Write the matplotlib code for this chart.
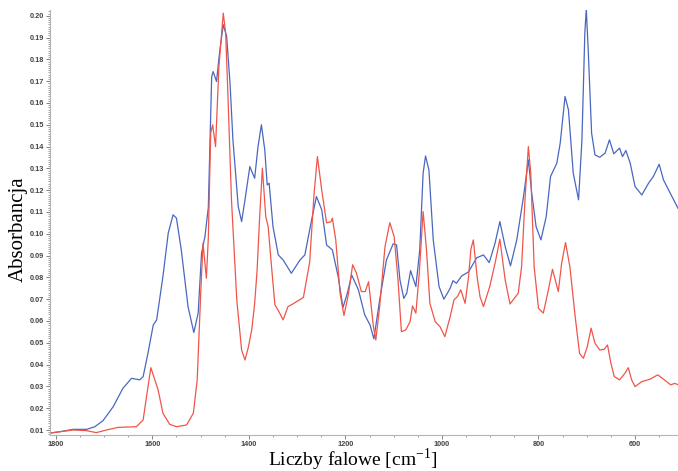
import numpy as np
import matplotlib
matplotlib.use('Agg')
import matplotlib.pyplot as plt
from matplotlib.ticker import MultipleLocator, FormatStrFormatter

plt.rcParams['mathtext.fontset'] = 'stix'

# blue spectrum (wavenumber, absorbance)
blue_w = np.array([1812, 1792, 1764, 1736, 1719, 1702, 1681, 1661, 1643, 1626,
                   1619, 1609, 1598, 1591, 1578, 1567, 1557, 1550, 1540, 1526,
                   1514, 1505, 1498, 1491, 1484, 1477, 1474, 1467, 1460, 1453,
                   1446, 1439, 1433, 1422, 1415, 1408, 1398, 1388, 1381, 1374,
                   1367, 1362, 1358, 1350, 1339, 1329, 1312, 1294, 1284, 1270,
                   1260, 1249, 1239, 1227, 1215, 1205, 1196, 1187, 1173, 1160,
                   1149, 1141, 1129, 1115, 1101, 1094, 1087, 1079, 1073, 1065,
                   1054, 1046, 1039, 1034, 1027, 1018, 1006, 996, 983, 977,
                   970, 959, 945, 928, 914, 902, 890, 880, 869, 858,
                   845, 831, 821, 814, 805, 795, 784, 775, 762, 755,
                   745, 738, 728, 717, 710, 704, 701, 697, 690, 683,
                   673, 662, 653, 644, 632, 626, 619, 610, 600, 586,
                   572, 562, 550, 541, 527, 511])
blue_a = np.array([0.0086, 0.0092, 0.0103, 0.0103, 0.0115, 0.0143, 0.0207, 0.0291, 0.0337, 0.0330,
                   0.0345, 0.0452, 0.0582, 0.0605, 0.0804, 0.1003, 0.1087, 0.1072, 0.0926, 0.0666,
                   0.0547, 0.0636, 0.0911, 0.0987, 0.1120, 0.1721, 0.1744, 0.1699, 0.1844, 0.1959,
                   0.1905, 0.1691, 0.1431, 0.1125, 0.1056, 0.1156, 0.1308, 0.1255, 0.1400, 0.1500,
                   0.1385, 0.1224, 0.1232, 0.1033, 0.0903, 0.0880, 0.0819, 0.0880, 0.0903, 0.1064,
                   0.1171, 0.1110, 0.0949, 0.0926, 0.0804, 0.0662, 0.0727, 0.0811, 0.0743, 0.0628,
                   0.0582, 0.0518, 0.0697, 0.0880, 0.0954, 0.0949, 0.0788, 0.0704, 0.0727, 0.0831,
                   0.0758, 0.0926, 0.1278, 0.1357, 0.1293, 0.0972, 0.0758, 0.0700, 0.0750, 0.0785,
                   0.0773, 0.0807, 0.0825, 0.0890, 0.0903, 0.0868, 0.0957, 0.1056, 0.0941, 0.0853,
                   0.0972, 0.1171, 0.1339, 0.1186, 0.1033, 0.0972, 0.1079, 0.1263, 0.1324, 0.1416,
                   0.1630, 0.1569, 0.1278, 0.1156, 0.1431, 0.1921, 0.2030, 0.1844, 0.1462, 0.1362,
                   0.1351, 0.1370, 0.1431, 0.1367, 0.1393, 0.1354, 0.1382, 0.1324, 0.1217, 0.1178,
                   0.1232, 0.1263, 0.1319, 0.1247, 0.1186, 0.1117])

# red spectrum
red_w = np.array([1812, 1792, 1764, 1736, 1716, 1695, 1671, 1633, 1619, 1611,
                  1603, 1597, 1588, 1578, 1564, 1550, 1529, 1515, 1507, 1500,
                  1495, 1488, 1484, 1479, 1475, 1469, 1462, 1453, 1448, 1443,
                  1436, 1425, 1415, 1408, 1401, 1394, 1388, 1383, 1378, 1372,
                  1365, 1360, 1353, 1346, 1336, 1329, 1319, 1312, 1301, 1287,
                  1274, 1265, 1258, 1249, 1239, 1230, 1227, 1220, 1211, 1203,
                  1194, 1185, 1177, 1167, 1159, 1152, 1148, 1142, 1137, 1129,
                  1118, 1108, 1099, 1091, 1084, 1075, 1066, 1061, 1054, 1047,
                  1039, 1032, 1025, 1014, 1004, 994, 983, 975, 968, 961,
                  952, 945, 940, 935, 927, 921, 914, 901, 890, 880,
                  869, 859, 842, 835, 828, 821, 816, 809, 800, 790,
                  781, 771, 759, 752, 744, 735, 724, 715, 707, 699,
                  691, 683, 673, 664, 657, 650, 643, 632, 621, 614,
                  607, 600, 586, 569, 553, 541, 526, 518, 510])
red_a = np.array([0.0086, 0.0092, 0.0100, 0.0097, 0.0088, 0.0100, 0.0112, 0.0115, 0.0146, 0.0268,
                  0.0386, 0.0345, 0.0284, 0.0177, 0.0126, 0.0115, 0.0123, 0.0177, 0.0330, 0.0712,
                  0.0957, 0.0796, 0.0980, 0.1462, 0.1500, 0.1400, 0.1767, 0.2012, 0.1920, 0.1614,
                  0.1156, 0.0697, 0.0467, 0.0421, 0.0480, 0.0560, 0.0680, 0.0830, 0.1060, 0.1301,
                  0.1079, 0.1033, 0.0849, 0.0674, 0.0636, 0.0605, 0.0666, 0.0674, 0.0689, 0.0708,
                  0.0870, 0.1180, 0.1354, 0.1200, 0.1050, 0.1055, 0.1072, 0.0972, 0.0727, 0.0625,
                  0.0720, 0.0858, 0.0819, 0.0735, 0.0735, 0.0780, 0.0697, 0.0574, 0.0513, 0.0666,
                  0.0941, 0.1051, 0.0987, 0.0788, 0.0551, 0.0559, 0.0597, 0.0669, 0.0636, 0.0819,
                  0.1102, 0.0926, 0.0681, 0.0597, 0.0574, 0.0528, 0.0620, 0.0697, 0.0712, 0.0743,
                  0.0681, 0.0800, 0.0930, 0.0972, 0.0800, 0.0710, 0.0666, 0.0758, 0.0865, 0.0975,
                  0.0788, 0.0678, 0.0727, 0.0849, 0.1156, 0.1400, 0.1278, 0.0849, 0.0658, 0.0636,
                  0.0727, 0.0837, 0.0735, 0.0865, 0.0960, 0.0849, 0.0620, 0.0452, 0.0429, 0.0482,
                  0.0567, 0.0498, 0.0467, 0.0470, 0.0490, 0.0406, 0.0345, 0.0330, 0.0360, 0.0386,
                  0.0330, 0.0299, 0.0322, 0.0333, 0.0353, 0.0333, 0.0307, 0.0314, 0.0307])

fig = plt.figure(figsize=(6.78, 4.71), dpi=100)
ax = fig.add_axes([0.0737, 0.0764, 0.9263, 0.9026])

ax.plot(blue_w, blue_a, color='#4a67c0', linewidth=0.9)
ax.plot(red_w, red_a, color='#f0554a', linewidth=0.9)

ax.set_xlim(1812, 511)
ax.set_ylim(0.0077, 0.2027)

ax.spines['top'].set_visible(False)
ax.spines['right'].set_visible(False)
for s in ['left', 'bottom']:
    ax.spines[s].set_color('#b4b4b4')
    ax.spines[s].set_linewidth(0.8)

ax.xaxis.set_major_locator(MultipleLocator(200))
ax.xaxis.set_minor_locator(MultipleLocator(50))
ax.yaxis.set_major_locator(MultipleLocator(0.01))
ax.yaxis.set_minor_locator(MultipleLocator(0.001))
ax.yaxis.set_major_formatter(FormatStrFormatter('%.2f'))

ax.tick_params(which='major', length=3, width=0.7, color='#808080',
               labelsize=5.3, labelcolor='#444444', pad=1.5)
ax.tick_params(which='minor', length=1.5, width=0.6, color='#909090')
for lab in ax.get_xticklabels() + ax.get_yticklabels():
    lab.set_family('Liberation Sans')
    lab.set_fontweight('bold')

ax.set_xlabel('Liczby falowe [cm$^{\\mathregular{-1}}$]', family='Liberation Serif', fontsize=14)
ax.set_ylabel('Absorbancja', family='Liberation Serif', fontsize=15)
ax.xaxis.set_label_coords(0.4825, -0.028, transform=ax.transAxes)
ax.yaxis.set_label_coords(-0.036, 0.485, transform=ax.transAxes)
ax.xaxis.label.set_va('top')

fig.savefig('out.png', dpi=100)
